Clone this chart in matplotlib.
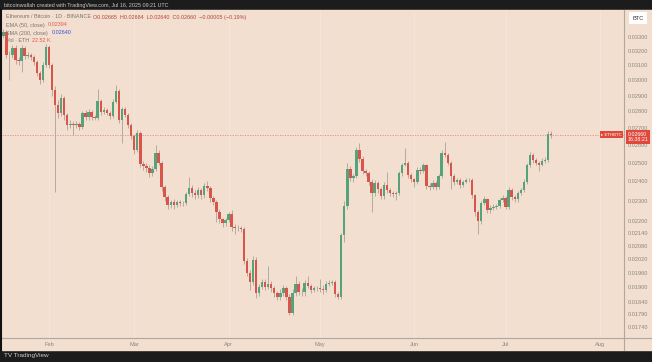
import numpy as np
import pandas as pd
import matplotlib
matplotlib.use("Agg")
import matplotlib.pyplot as plt
import matplotlib.dates as mdates
from matplotlib.ticker import FixedLocator, FuncFormatter, NullLocator
from matplotlib.lines import Line2D
from matplotlib.patches import Rectangle

plt.rcParams["font.family"] = ["Liberation Sans", "DejaVu Sans"]

# ETH/BTC daily candles, Jan 17 - Jul 16 2025
first_open = 0.03307
closes = [
    .03337, .03171, .03168, .03221, .03137, .03130, .03221, .03164, .03171, .03157,
    .03123, .03048, .03001, .03102, .03228, .03102, .02936, .02840, .02790, .02885,
    .02778, .02717, .02723, .02717, .02723, .02705, .02790, .02766, .02797, .02766,
    .02760, .02865, .02797, .02809, .02790, .02772, .02859, .02929, .02748, .02815,
    .02778, .02717, .02652, .02571, .02670, .02493, .02482, .02471, .02444, .02466,
    .02554, .02499, .02370, .02318, .02277, .02292, .02277, .02292, .02287, .02286,
    .02333, .02365, .02338, .02328, .02354, .02328, .02375, .02365, .02313, .02292,
    .02242, .02208, .02189, .02203, .02233, .02169, .02167, .02164, .02160, .02013,
    .01960, .01922, .02017, .01876, .01900, .01922, .01900, .01913, .01896, .01876,
    .01859, .01876, .01896, .01859, .01796, .01876, .01913, .01880, .01878, .01917,
    .01905, .01888, .01896, .01895, .01892, .01888, .01913, .01917, .01922, .01871,
    .01859, .02131, .02272, .02466, .02418, .02428, .02571, .02521, .02455, .02444,
    .02396, .02338, .02391, .02359, .02323, .02380, .02354, .02338, .02333, .02340,
    .02444, .02488, .02499, .02433, .02412, .02396, .02460, .02455, .02488, .02375,
    .02370, .02391, .02370, .02428, .02554, .02543, .02499, .02428, .02396, .02407,
    .02380, .02396, .02407, .02405, .02328, .02242, .02198, .02287, .02308, .02252,
    .02262, .02267, .02272, .02303, .02313, .02267, .02354, .02318, .02308, .02338,
    .02354, .02396, .02488, .02543, .02515, .02499, .02488, .02510, .02515, .02665,
    .02660,
]
highs = [
    .03360, .03350, .03200, .03245, .03240, .03160, .03240, .03235, .03190, .03185,
    .03170, .03135, .03060, .03120, .03250, .03240, .03115, .02960, .02870, .02910,
    .02900, .02790, .02745, .02740, .02740, .02735, .02805, .02810, .02815, .02810,
    .02780, .02942, .02880, .02825, .02820, .02800, .02875, .02968, .02940, .02830,
    .02830, .02790, .02730, .02665, .02690, .02680, .02510, .02500, .02490, .02480,
    .02600, .02570, .02510, .02380, .02330, .02305, .02310, .02305, .02305, .02300,
    .02345, .02422, .02380, .02355, .02370, .02365, .02390, .02400, .02375, .02325,
    .02305, .02255, .02215, .02215, .02245, .02250, .02185, .02180, .02175, .02170,
    .02025, .01975, .02035, .02030, .01915, .01935, .01935, .01990, .01925, .01905,
    .01885, .01890, .01910, .01905, .01870, .01890, .01945, .01925, .01895, .01930,
    .01945, .01915, .01905, .01905, .01935, .01910, .01925, .01930, .01930, .01930,
    .01880, .02140, .02300, .02499, .02480, .02440, .02590, .02612, .02535, .02465,
    .02455, .02410, .02405, .02400, .02370, .02395, .02449, .02365, .02350, .02350,
    .02455, .02500, .02581, .02510, .02445, .02420, .02475, .02475, .02500, .02495,
    .02390, .02405, .02400, .02440, .02570, .02617, .02555, .02510, .02440, .02420,
    .02415, .02405, .02415, .02415, .02415, .02335, .02250, .02300, .02325, .02315,
    .02275, .02280, .02285, .02315, .02330, .02325, .02370, .02365, .02330, .02350,
    .02365, .02410, .02500, .02560, .02555, .02525, .02510, .02525, .02530, .02680,
    .02684,
]
lows = [
    .03290, .03150, .03001, .03150, .03110, .03105, .03055, .03145, .03150, .03140,
    .03100, .03030, .02975, .02990, .03090, .03085, .02900, .02345, .02760, .02770,
    .02750, .02690, .02700, .02658, .02700, .02690, .02695, .02750, .02750, .02750,
    .02745, .02750, .02780, .02785, .02775, .02755, .02760, .02850, .02730, .02612,
    .02765, .02700, .02635, .02550, .02560, .02475, .02460, .02450, .02425, .02430,
    .02455, .02485, .02350, .02300, .02255, .02260, .02255, .02265, .02270, .02272,
    .02275, .02325, .02320, .02310, .02315, .02310, .02315, .02350, .02295, .02275,
    .02193, .02190, .02170, .02175, .02195, .02150, .02136, .02150, .02145, .02000,
    .01945, .01888, .01910, .01855, .01862, .01890, .01888, .01890, .01880, .01860,
    .01845, .01845, .01865, .01845, .01786, .01786, .01865, .01868, .01862, .01865,
    .01895, .01875, .01880, .01885, .01878, .01870, .01880, .01905, .01910, .01860,
    .01850, .01850, .02100, .02257, .02400, .02395, .02415, .02505, .02440, .02430,
    .02380, .02242, .02325, .02340, .02310, .02310, .02340, .02325, .02320, .02303,
    .02330, .02430, .02480, .02420, .02395, .02370, .02385, .02440, .02445, .02360,
    .02355, .02360, .02355, .02360, .02420, .02530, .02485, .02360, .02380, .02385,
    .02365, .02370, .02390, .02395, .02315, .02225, .02136, .02185, .02275, .02240,
    .02240, .02250, .02255, .02260, .02295, .02255, .02255, .02305, .02295, .02295,
    .02330, .02345, .02385, .02475, .02500, .02485, .02455, .02480, .02500, .02505,
    .02640,
]
dates = pd.date_range("2025-01-17", periods=len(closes), freq="D")

price_ticks = [0.03300, 0.03200, 0.03100, 0.03000, 0.02900, 0.02800, 0.02700,
               0.02600, 0.02500, 0.02400, 0.02300, 0.02200, 0.02140, 0.02080,
               0.02020, 0.01960, 0.01900, 0.01840, 0.01790, 0.01740]
month_ticks = ["2025-02-01", "2025-03-01", "2025-04-01", "2025-05-01",
               "2025-06-01", "2025-07-01", "2025-08-01"]
month_labels = ["Feb", "Mar", "Apr", "May", "Jun", "Jul", "Aug"]

BG = "#f2dfcf"
DARK = "#1c1c1c"
GREEN = "#56a27b"
RED = "#d9544a"
WICK = "#aaa198"
TXT = "#8c8680"
FS = 4.1

W, H = 652, 362
fig = plt.figure(figsize=(W / 100, H / 100), dpi=100)
fig.patch.set_facecolor(DARK)
# peach chart area between the dark bars
fig.patches.append(Rectangle((2 / W, 1 - 350 / H), 1, (350 - 10) / H,
                             transform=fig.transFigure, color=BG, zorder=-5))

ax = fig.add_axes([2 / W, 1 - 338 / H, 622 / W, (338 - 11) / H])
ax.set_facecolor(BG)
ax.set_zorder(2)

x = mdates.date2num(dates)
o = np.array([first_open] + closes[:-1])
c = np.array(closes)
hi = np.array(highs)
lo = np.array(lows)
up = c >= o
cols = np.where(up, GREEN, RED)

ax.vlines(x, lo, hi, color=WICK, lw=0.6, zorder=2)
bottom = np.minimum(o, c)
height = np.maximum(np.abs(c - o), 0.000025)
ax.bar(x, height, bottom=bottom, width=0.8, color=cols, linewidth=0, zorder=3)

ax.set_yscale("log")
ax.set_ylim(0.01698, 0.03495)
feb1 = mdates.date2num(pd.Timestamp("2025-02-01"))
ax.set_xlim(feb1 - 47 / 3.044, feb1 + 575 / 3.044)

# last price dotted line
ax.axhline(closes[-1], color="#e58a80", lw=0.6, ls=(0, (1.5, 1.5)), zorder=1)

ax.yaxis.tick_right()
ax.yaxis.set_major_locator(FixedLocator(price_ticks))
ax.yaxis.set_minor_locator(NullLocator())
ax.yaxis.set_major_formatter(FuncFormatter(lambda v, p: f"{v:.5f}"))
ax.tick_params(axis="y", which="both", length=0, pad=3, labelsize=FS,
               labelcolor=TXT)

mt = mdates.date2num(pd.to_datetime(month_ticks))
ax.set_xticks(mt)
ax.set_xticklabels(month_labels)
ax.tick_params(axis="x", length=0, pad=3, labelsize=FS, labelcolor=TXT)
for m in mt:
    ax.axvline(m, color="#f6e7db", lw=0.6, zorder=0.5)

for s in ["top", "left", "bottom", "right"]:
    ax.spines[s].set_visible(False)

# axis border lines
fig.add_artist(Line2D([2 / W, 1], [1 - 338 / H] * 2, color="#b0a79f", lw=0.8, zorder=5))
fig.add_artist(Line2D([624 / W] * 2, [1 - 350 / H, 1 - 10 / H], color="#b0a79f", lw=0.8, zorder=5))
fig.add_artist(Line2D([1 / W] * 2, [1 - 350 / H, 1 - 10 / H], color="#111111", lw=1.5, zorder=5))

# header texts (on top of the candles)
def htext(px, py, s, color, **kw):
    fig.text(px / W, 1 - py / H, s, fontsize=3.9, color=color, va="center", zorder=6, **kw)

htext(4, 5, "bitcoinwallah created with TradingView.com, Jul 16, 2025 09:21 UTC", "#c8c8c8")
htext(6, 17, "Ethereum / Bitcoin · 1D · BINANCE", "#7a736d")
htext(93, 17, "O0.02665  H0.02684  L0.02640  C0.02660  −0.00005 (−0.19%)", "#b5453c")
htext(6, 25, "EMA (50, close)", "#7a736d")
htext(48, 25, "0.02394", "#e05a52")
htext(6, 33, "SMA (200, close)", "#7a736d")
htext(52, 33, "0.02640", "#3d4fe0")
htext(6, 40, "Vol · ETH", "#7a736d")
htext(32, 40, "22.52 K", "#e05a52")

# BTC unit box
fig.text(638 / W, 1 - 18 / H, "BTC", fontsize=FS, color="#333333", ha="center", va="center",
         zorder=6, bbox=dict(boxstyle="square,pad=0.6", fc="white", ec="none"))

# last price box on the scale
ytr = ax.get_yaxis_transform()
ax.annotate("0.02660\n16:38:21", xy=(1.0, closes[-1]), xycoords=ytr,
            xytext=(2.5, 2.2), textcoords="offset points", fontsize=3.8,
            color="white", va="top", ha="left", linespacing=1.15, zorder=10,
            bbox=dict(boxstyle="square,pad=0.3", fc="#e0483c", ec="none"),
            annotation_clip=False)
ax.text(0.997, closes[-1], "▸ ETHBTC", transform=ytr, fontsize=3.2, color="white",
        va="center", ha="right", zorder=10,
        bbox=dict(boxstyle="square,pad=0.3", fc="#e0483c", ec="none"), clip_on=False)

# footer logo
fig.text(4 / W, 1 - 356 / H, "TV TradingView", fontsize=4.6, color="#d0d0d0", va="center")

fig.savefig("out.png", dpi=100, facecolor=fig.get_facecolor())
